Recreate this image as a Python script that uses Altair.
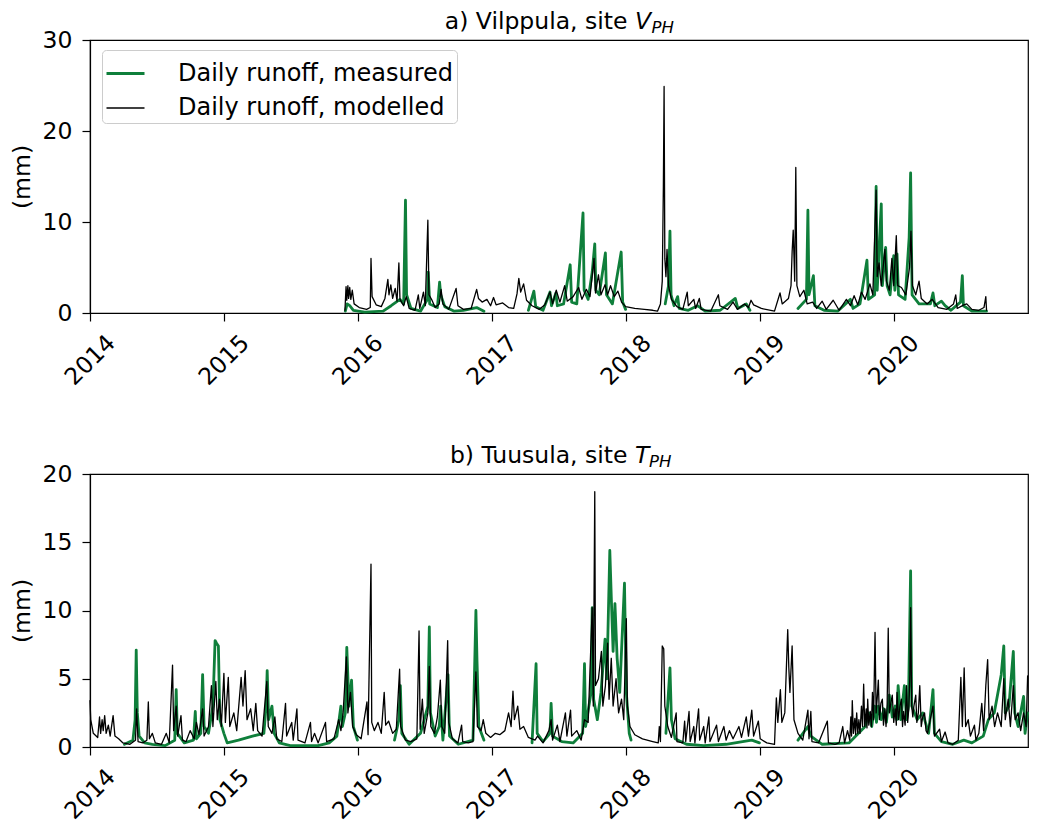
import altair as alt
import pandas as pd

MEASURED = "Daily runoff, measured"
MODELLED = "Daily runoff, modelled"
GREEN = "#0f7f3b"
FONT = "DejaVu Sans"

YEARS = [2014, 2015, 2016, 2017, 2018, 2019, 2020]
TOP_YTICKS = [0, 10, 20, 30]
BOT_YTICKS = [0, 5, 10, 15, 20]

# None marks a gap in the record
VILPPULA_MEASURED = [
    ("2015-11-28", 0.2), ("2015-12-03", 1.0), ("2015-12-10", 0.8), ("2015-12-20", 0.3),
    ("2016-01-20", 0.1), ("2016-03-10", 0.2), ("2016-04-01", 0.8), ("2016-04-25", 1.5),
    ("2016-05-05", 1.0), ("2016-05-10", 12.4), ("2016-05-13", 2.0), ("2016-05-25", 0.5),
    ("2016-06-20", 0.2), ("2016-07-09", 1.5), ("2016-07-11", 4.5), ("2016-07-15", 1.0),
    ("2016-08-05", 0.6), ("2016-08-11", 3.4), ("2016-08-14", 2.0), ("2016-08-25", 0.7),
    ("2016-09-20", 0.2), ("2016-10-15", 0.3), ("2016-11-20", 0.6), ("2016-12-10", 0.2),
    None,
    ("2017-04-10", 0.3), ("2017-04-25", 2.4), ("2017-04-30", 0.7), ("2017-05-20", 0.3),
    ("2017-06-08", 2.3), ("2017-06-12", 0.8), ("2017-06-24", 2.2), ("2017-06-28", 0.8),
    ("2017-07-15", 1.0), ("2017-08-02", 5.3), ("2017-08-06", 1.2), ("2017-08-20", 1.0),
    ("2017-09-06", 11.0), ("2017-09-09", 2.5), ("2017-09-20", 1.5), ("2017-10-01", 4.5),
    ("2017-10-08", 7.6), ("2017-10-11", 2.5), ("2017-10-20", 2.0), ("2017-11-06", 6.6),
    ("2017-11-09", 2.0), ("2017-11-25", 1.0), ("2017-12-19", 6.7), ("2017-12-23", 1.2),
    ("2017-12-31", 0.4),
    None,
    ("2018-04-18", 1.0), ("2018-04-27", 3.0), ("2018-05-01", 9.0), ("2018-05-04", 2.0),
    ("2018-05-12", 0.8), ("2018-05-22", 1.8), ("2018-05-26", 0.5), ("2018-06-20", 0.3),
    ("2018-07-15", 0.8), ("2018-08-05", 0.2), ("2018-09-15", 0.3), ("2018-10-26", 1.6),
    ("2018-11-02", 0.5), ("2018-11-25", 1.0), ("2018-12-05", 0.3),
    None,
    ("2019-04-15", 0.5), ("2019-05-08", 1.5), ("2019-05-12", 11.3), ("2019-05-15", 2.0),
    ("2019-05-27", 4.1), ("2019-05-31", 0.8), ("2019-06-25", 0.3), ("2019-08-01", 0.2),
    ("2019-09-05", 1.5), ("2019-09-12", 0.5), ("2019-10-01", 1.0), ("2019-10-20", 5.8),
    ("2019-10-24", 1.5), ("2019-11-10", 2.0), ("2019-11-14", 13.9), ("2019-11-17", 2.5),
    ("2019-11-28", 12.0), ("2019-12-01", 3.0), ("2019-12-10", 7.2), ("2019-12-14", 3.0),
    ("2019-12-22", 2.0), ("2020-01-01", 6.3), ("2020-01-04", 2.5), ("2020-01-10", 6.5),
    ("2020-01-14", 2.0), ("2020-02-01", 1.5), ("2020-02-12", 8.3), ("2020-02-16", 15.4),
    ("2020-02-20", 2.0), ("2020-03-10", 1.0), ("2020-04-10", 1.0), ("2020-04-17", 2.2),
    ("2020-04-22", 0.8), ("2020-05-10", 1.3), ("2020-05-20", 0.8), ("2020-06-05", 0.3),
    ("2020-07-01", 1.2), ("2020-07-06", 4.1), ("2020-07-09", 0.8), ("2020-08-01", 0.2),
    ("2020-09-10", 0.2),
]

VILPPULA_MODELLED = [
    ("2015-11-27", 0.3), ("2015-11-30", 2.9), ("2015-12-02", 1.4), ("2015-12-05", 3.0),
    ("2015-12-07", 1.6), ("2015-12-10", 2.8), ("2015-12-13", 1.5), ("2015-12-17", 2.5),
    ("2015-12-22", 1.0), ("2016-01-05", 0.6), ("2016-01-25", 0.4), ("2016-02-04", 0.6),
    ("2016-02-06", 6.0), ("2016-02-09", 1.8), ("2016-02-20", 0.9), ("2016-03-05", 0.7),
    ("2016-03-15", 1.6), ("2016-03-23", 3.7), ("2016-03-26", 2.0), ("2016-03-31", 3.1),
    ("2016-04-05", 1.6), ("2016-04-12", 2.7), ("2016-04-17", 1.3), ("2016-04-22", 5.5),
    ("2016-04-25", 1.5), ("2016-05-05", 0.8), ("2016-05-12", 1.8), ("2016-05-20", 0.5),
    ("2016-06-05", 0.3), ("2016-06-14", 2.0), ("2016-06-18", 0.5), ("2016-06-28", 2.3),
    ("2016-07-03", 0.8), ("2016-07-10", 10.2), ("2016-07-13", 2.0), ("2016-07-20", 1.5),
    ("2016-07-30", 0.6), ("2016-08-10", 1.0), ("2016-08-15", 2.6), ("2016-08-20", 1.0),
    ("2016-09-05", 0.4), ("2016-09-25", 2.7), ("2016-09-30", 0.8), ("2016-10-15", 0.4),
    ("2016-11-05", 0.5), ("2016-11-20", 2.6), ("2016-11-25", 1.6), ("2016-12-05", 1.2),
    ("2016-12-18", 1.5), ("2016-12-28", 0.8), ("2017-01-05", 1.7), ("2017-01-12", 0.9),
    ("2017-01-30", 1.1), ("2017-02-15", 0.6), ("2017-03-01", 0.5), ("2017-03-10", 2.1),
    ("2017-03-15", 3.8), ("2017-03-20", 2.3), ("2017-03-28", 3.2), ("2017-04-05", 1.4),
    ("2017-04-20", 0.8), ("2017-05-10", 0.4), ("2017-05-25", 0.9), ("2017-06-08", 2.3),
    ("2017-06-15", 1.0), ("2017-06-25", 2.5), ("2017-07-05", 1.2), ("2017-07-18", 3.0),
    ("2017-07-25", 1.3), ("2017-08-10", 1.8), ("2017-08-25", 2.8), ("2017-09-03", 1.5),
    ("2017-09-15", 2.6), ("2017-09-25", 1.8), ("2017-10-06", 6.0), ("2017-10-10", 2.2),
    ("2017-10-18", 4.2), ("2017-10-25", 2.0), ("2017-11-05", 3.1), ("2017-11-12", 2.0),
    ("2017-11-20", 3.0), ("2017-11-30", 1.8), ("2017-12-10", 2.4), ("2017-12-20", 1.2),
    ("2017-12-31", 0.7), ("2018-01-25", 0.5), ("2018-02-20", 0.4), ("2018-03-15", 0.3),
    ("2018-03-28", 0.2), ("2018-04-05", 1.0), ("2018-04-10", 3.5), ("2018-04-13", 13.9),
    ("2018-04-15", 24.9), ("2018-04-17", 6.0), ("2018-04-20", 4.0), ("2018-04-23", 7.0),
    ("2018-04-27", 3.0), ("2018-05-05", 1.5), ("2018-05-20", 0.7), ("2018-06-05", 0.4),
    ("2018-06-17", 2.3), ("2018-06-20", 0.8), ("2018-07-05", 1.5), ("2018-07-10", 0.5),
    ("2018-07-20", 1.6), ("2018-07-25", 0.4), ("2018-08-20", 0.2), ("2018-09-10", 2.0),
    ("2018-09-14", 0.8), ("2018-10-05", 0.4), ("2018-10-20", 1.2), ("2018-11-01", 0.4),
    ("2018-11-20", 1.0), ("2018-12-01", 0.6), ("2018-12-08", 1.4), ("2018-12-15", 0.9),
    ("2019-01-05", 0.5), ("2019-02-10", 0.2), ("2019-02-25", 2.2), ("2019-03-03", 1.0),
    ("2019-03-20", 1.6), ("2019-03-27", 3.0), ("2019-03-30", 6.7), ("2019-04-02", 9.1),
    ("2019-04-06", 3.5), ("2019-04-09", 16.0), ("2019-04-12", 3.0), ("2019-04-20", 1.8),
    ("2019-05-01", 2.5), ("2019-05-10", 1.0), ("2019-05-25", 1.2), ("2019-06-05", 0.5),
    ("2019-06-20", 1.3), ("2019-07-01", 0.4), ("2019-07-20", 1.4), ("2019-08-05", 0.3),
    ("2019-08-25", 1.5), ("2019-09-05", 0.8), ("2019-09-15", 1.9), ("2019-09-25", 0.9),
    ("2019-10-05", 2.3), ("2019-10-15", 1.5), ("2019-10-28", 3.2), ("2019-11-05", 2.0),
    ("2019-11-14", 13.5), ("2019-11-17", 4.0), ("2019-11-22", 5.5), ("2019-11-28", 3.0),
    ("2019-12-08", 7.0), ("2019-12-12", 3.5), ("2019-12-20", 2.5), ("2019-12-27", 6.0),
    ("2020-01-01", 3.0), ("2020-01-08", 8.5), ("2020-01-12", 3.0), ("2020-01-22", 2.8),
    ("2020-02-03", 2.0), ("2020-02-13", 5.0), ("2020-02-17", 9.0), ("2020-02-21", 3.0),
    ("2020-03-01", 2.0), ("2020-03-10", 3.5), ("2020-03-16", 1.6), ("2020-04-01", 1.0),
    ("2020-04-15", 1.5), ("2020-05-01", 0.6), ("2020-05-25", 0.4), ("2020-06-12", 1.0),
    ("2020-06-18", 2.0), ("2020-06-22", 0.5), ("2020-07-10", 0.9), ("2020-07-18", 1.0),
    ("2020-08-01", 0.4), ("2020-08-20", 0.3), ("2020-09-03", 0.6), ("2020-09-08", 1.8),
    ("2020-09-10", 0.3),
]

TUUSULA_MEASURED = [
    ("2014-04-05", 0.2), ("2014-04-28", 0.5), ("2014-05-04", 2.0), ("2014-05-07", 7.1),
    ("2014-05-10", 2.5), ("2014-05-15", 0.8), ("2014-05-30", 0.3), ("2014-06-20", 0.2),
    ("2014-07-25", 0.1), ("2014-08-20", 0.5), ("2014-08-24", 4.2), ("2014-08-27", 1.0),
    ("2014-09-15", 0.3), ("2014-10-10", 0.5), ("2014-10-15", 2.6), ("2014-10-18", 0.6),
    ("2014-10-30", 1.0), ("2014-11-04", 5.3), ("2014-11-08", 1.5), ("2014-11-20", 1.0),
    ("2014-12-02", 3.0), ("2014-12-08", 7.8), ("2014-12-12", 7.6), ("2014-12-17", 7.4),
    ("2014-12-21", 2.0), ("2015-01-01", 1.0), ("2015-01-10", 0.3), ("2015-02-10", 0.5),
    ("2015-03-20", 0.8), ("2015-04-20", 1.0), ("2015-04-26", 3.0), ("2015-04-29", 5.6),
    ("2015-05-03", 2.0), ("2015-05-12", 3.0), ("2015-05-18", 1.0), ("2015-06-01", 0.3),
    ("2015-07-01", 0.1), ("2015-08-15", 0.1), ("2015-09-15", 0.1), ("2015-10-15", 0.3),
    ("2015-11-05", 0.8), ("2015-11-16", 3.0), ("2015-11-20", 1.5), ("2015-11-28", 2.5),
    ("2015-12-02", 7.3), ("2015-12-08", 3.0), ("2015-12-15", 4.9), ("2015-12-20", 1.5),
    ("2015-12-31", 0.5),
    None,
    ("2016-04-10", 0.5), ("2016-04-22", 2.0), ("2016-04-26", 4.5), ("2016-04-30", 1.0),
    ("2016-05-20", 0.2), ("2016-06-20", 1.0), ("2016-07-10", 3.0), ("2016-07-14", 8.8),
    ("2016-07-17", 2.5), ("2016-07-30", 0.8), ("2016-08-10", 1.5), ("2016-08-14", 3.0),
    ("2016-08-20", 0.5), ("2016-09-03", 5.3), ("2016-09-07", 0.8), ("2016-10-01", 0.2),
    ("2016-11-10", 0.5), ("2016-11-18", 10.0), ("2016-11-21", 6.3), ("2016-11-26", 1.5),
    ("2016-12-10", 0.5),
    None,
    ("2017-04-20", 0.3), ("2017-05-01", 6.1), ("2017-05-04", 1.0), ("2017-05-20", 0.4),
    ("2017-06-08", 1.0), ("2017-06-11", 3.2), ("2017-06-15", 0.8), ("2017-07-10", 0.4),
    ("2017-08-10", 0.3), ("2017-09-05", 1.0), ("2017-09-10", 6.1), ("2017-09-13", 1.5),
    ("2017-09-28", 4.0), ("2017-10-01", 10.2), ("2017-10-05", 3.5), ("2017-10-15", 2.0),
    ("2017-10-25", 4.0), ("2017-11-05", 7.9), ("2017-11-10", 5.0), ("2017-11-18", 14.4),
    ("2017-11-22", 11.0), ("2017-11-27", 7.0), ("2017-12-02", 10.5), ("2017-12-08", 6.5),
    ("2017-12-15", 4.0), ("2017-12-28", 12.0), ("2018-01-02", 4.0), ("2018-01-10", 1.0),
    ("2018-01-15", 0.5),
    None,
    ("2018-04-20", 1.0), ("2018-05-01", 5.8), ("2018-05-05", 2.0), ("2018-05-15", 0.6),
    ("2018-06-15", 0.2), ("2018-08-01", 0.1), ("2018-10-01", 0.2), ("2018-11-15", 0.4),
    ("2018-12-10", 0.5), ("2018-12-31", 0.3),
    None,
    ("2019-04-15", 0.5), ("2019-05-12", 1.5), ("2019-05-20", 0.8), ("2019-06-20", 0.2),
    ("2019-09-01", 0.3), ("2019-10-15", 1.5), ("2019-10-25", 2.5), ("2019-11-02", 1.5),
    ("2019-11-10", 3.0), ("2019-11-15", 1.8), ("2019-11-20", 3.0), ("2019-11-28", 2.0),
    ("2019-12-05", 2.8), ("2019-12-12", 1.8), ("2019-12-20", 3.8), ("2019-12-28", 2.2),
    ("2020-01-05", 3.0), ("2020-01-09", 2.0), ("2020-01-13", 4.5), ("2020-01-20", 2.0),
    ("2020-01-26", 3.5), ("2020-01-30", 4.5), ("2020-02-05", 2.0), ("2020-02-10", 3.0),
    ("2020-02-16", 12.9), ("2020-02-19", 3.0), ("2020-03-05", 2.0), ("2020-03-20", 2.5),
    ("2020-04-05", 1.0), ("2020-04-17", 4.2), ("2020-04-21", 1.0), ("2020-05-10", 0.4),
    ("2020-06-10", 0.2), ("2020-07-10", 0.5), ("2020-08-01", 0.3), ("2020-09-01", 0.8),
    ("2020-09-15", 2.0), ("2020-10-01", 2.5), ("2020-10-20", 5.3), ("2020-10-27", 7.4),
    ("2020-10-31", 2.5), ("2020-11-10", 3.0), ("2020-11-22", 7.0), ("2020-11-26", 2.5),
    ("2020-12-05", 1.5), ("2020-12-20", 3.7), ("2020-12-24", 1.0), ("2020-12-31", 2.5),
]

TUUSULA_MODELLED = [
    ("2014-01-01", 3.4), ("2014-01-03", 2.0), ("2014-01-10", 1.0), ("2014-01-22", 0.7),
    ("2014-01-27", 2.2), ("2014-01-30", 1.0), ("2014-02-03", 2.0), ("2014-02-06", 1.2),
    ("2014-02-10", 2.3), ("2014-02-14", 1.0), ("2014-02-20", 1.6), ("2014-02-25", 0.8),
    ("2014-03-05", 2.3), ("2014-03-10", 0.8), ("2014-03-20", 0.6), ("2014-04-01", 0.3),
    ("2014-04-20", 0.2), ("2014-05-05", 0.5), ("2014-05-08", 2.8), ("2014-05-12", 0.4),
    ("2014-05-25", 0.3), ("2014-06-05", 0.5), ("2014-06-09", 3.3), ("2014-06-12", 0.6),
    ("2014-06-20", 1.0), ("2014-06-28", 0.3), ("2014-07-15", 0.2), ("2014-07-28", 1.0),
    ("2014-08-05", 0.3), ("2014-08-14", 6.0), ("2014-08-17", 1.2), ("2014-08-24", 3.0),
    ("2014-08-28", 0.8), ("2014-09-06", 2.3), ("2014-09-10", 0.5), ("2014-09-20", 0.4),
    ("2014-10-01", 1.2), ("2014-10-12", 0.6), ("2014-10-18", 1.8), ("2014-10-25", 0.9),
    ("2014-11-04", 2.8), ("2014-11-08", 0.8), ("2014-11-20", 1.5), ("2014-11-28", 4.5),
    ("2014-12-02", 1.5), ("2014-12-10", 4.8), ("2014-12-14", 2.0), ("2014-12-20", 3.5),
    ("2014-12-25", 1.5), ("2015-01-01", 5.4), ("2015-01-05", 1.8), ("2015-01-13", 5.1),
    ("2015-01-17", 1.5), ("2015-01-28", 2.5), ("2015-02-05", 1.2), ("2015-02-17", 5.1),
    ("2015-02-22", 3.0), ("2015-02-28", 5.6), ("2015-03-05", 2.0), ("2015-03-15", 2.8),
    ("2015-03-22", 1.2), ("2015-03-29", 3.2), ("2015-04-03", 1.2), ("2015-04-15", 0.8),
    ("2015-04-28", 4.8), ("2015-05-02", 1.5), ("2015-05-12", 1.0), ("2015-05-20", 2.2),
    ("2015-05-25", 0.6), ("2015-06-08", 0.4), ("2015-06-18", 3.2), ("2015-06-21", 0.8),
    ("2015-07-05", 1.8), ("2015-07-09", 0.5), ("2015-07-19", 2.8), ("2015-07-22", 0.5),
    ("2015-08-10", 0.3), ("2015-08-25", 1.8), ("2015-08-28", 0.4), ("2015-09-05", 1.0),
    ("2015-09-15", 0.3), ("2015-10-05", 1.8), ("2015-10-08", 0.4), ("2015-10-28", 0.6),
    ("2015-11-10", 2.0), ("2015-11-16", 1.2), ("2015-11-22", 2.5), ("2015-12-01", 6.6),
    ("2015-12-05", 2.5), ("2015-12-12", 4.0), ("2015-12-18", 1.5), ("2015-12-28", 0.9),
    ("2016-01-10", 0.6), ("2016-01-26", 3.3), ("2016-01-29", 0.9), ("2016-02-06", 13.4),
    ("2016-02-08", 1.8), ("2016-02-15", 1.2), ("2016-02-25", 1.8), ("2016-03-05", 1.0),
    ("2016-03-13", 4.0), ("2016-03-17", 1.6), ("2016-03-25", 1.9), ("2016-04-05", 1.0),
    ("2016-04-15", 1.3), ("2016-04-24", 5.7), ("2016-04-27", 1.5), ("2016-05-10", 0.5),
    ("2016-05-25", 0.4), ("2016-06-10", 0.6), ("2016-06-16", 8.5), ("2016-06-19", 1.3),
    ("2016-06-25", 3.5), ("2016-06-30", 1.0), ("2016-07-10", 2.5), ("2016-07-14", 5.9),
    ("2016-07-18", 1.5), ("2016-07-28", 1.0), ("2016-08-05", 2.2), ("2016-08-13", 4.9),
    ("2016-08-17", 1.5), ("2016-08-25", 1.0), ("2016-09-02", 7.8), ("2016-09-05", 1.8),
    ("2016-09-15", 0.6), ("2016-09-30", 0.3), ("2016-10-10", 1.6), ("2016-10-13", 0.4),
    ("2016-10-28", 0.3), ("2016-11-10", 0.4), ("2016-11-18", 5.5), ("2016-11-22", 1.5),
    ("2016-12-02", 1.2), ("2016-12-08", 2.0), ("2016-12-15", 1.0), ("2016-12-28", 0.7),
    ("2017-01-10", 1.0), ("2017-01-22", 0.9), ("2017-02-05", 1.2), ("2017-02-15", 2.5),
    ("2017-02-22", 1.5), ("2017-02-27", 4.1), ("2017-03-03", 2.0), ("2017-03-12", 3.0),
    ("2017-03-18", 1.3), ("2017-03-28", 1.5), ("2017-04-10", 0.7), ("2017-04-28", 0.5),
    ("2017-05-05", 0.8), ("2017-05-20", 0.3), ("2017-06-05", 1.2), ("2017-06-11", 2.0),
    ("2017-06-15", 0.5), ("2017-06-28", 1.6), ("2017-07-05", 0.4), ("2017-07-20", 2.5),
    ("2017-07-24", 0.8), ("2017-08-03", 2.7), ("2017-08-06", 0.8), ("2017-08-20", 1.2),
    ("2017-09-01", 0.5), ("2017-09-10", 2.0), ("2017-09-20", 1.8), ("2017-10-01", 10.2),
    ("2017-10-04", 3.0), ("2017-10-08", 18.7), ("2017-10-10", 4.5), ("2017-10-18", 5.0),
    ("2017-10-26", 7.0), ("2017-10-30", 3.0), ("2017-11-06", 4.5), ("2017-11-12", 7.6),
    ("2017-11-16", 3.5), ("2017-11-22", 6.5), ("2017-11-27", 3.0), ("2017-12-05", 5.0),
    ("2017-12-12", 2.5), ("2017-12-20", 3.5), ("2017-12-26", 2.0), ("2018-01-02", 9.4),
    ("2018-01-05", 3.0), ("2018-01-12", 1.5), ("2018-01-25", 0.9), ("2018-02-15", 0.6),
    ("2018-03-15", 0.4), ("2018-03-30", 0.3), ("2018-04-02", 1.5), ("2018-04-05", 0.4),
    ("2018-04-10", 7.4), ("2018-04-14", 7.2), ("2018-04-17", 3.0), ("2018-04-25", 1.5),
    ("2018-05-05", 0.7), ("2018-05-18", 2.5), ("2018-05-20", 0.4), ("2018-06-05", 0.3),
    ("2018-06-10", 1.9), ("2018-06-13", 0.4), ("2018-06-22", 2.6), ("2018-06-25", 0.4),
    ("2018-07-05", 1.5), ("2018-07-08", 0.3), ("2018-07-18", 2.8), ("2018-07-21", 0.5),
    ("2018-08-01", 1.5), ("2018-08-05", 0.3), ("2018-08-15", 2.2), ("2018-08-18", 0.4),
    ("2018-09-05", 1.6), ("2018-09-10", 0.4), ("2018-09-25", 1.5), ("2018-10-01", 0.5),
    ("2018-10-10", 1.2), ("2018-10-20", 0.6), ("2018-11-05", 1.5), ("2018-11-12", 0.7),
    ("2018-11-25", 2.2), ("2018-12-01", 0.8), ("2018-12-10", 2.7), ("2018-12-15", 0.8),
    ("2018-12-28", 1.9), ("2019-01-02", 0.6), ("2019-01-20", 0.3), ("2019-02-10", 0.2),
    ("2019-02-15", 3.6), ("2019-02-19", 1.8), ("2019-02-26", 4.2), ("2019-03-02", 1.8),
    ("2019-03-10", 2.5), ("2019-03-18", 8.6), ("2019-03-21", 5.8), ("2019-03-24", 4.0),
    ("2019-03-30", 7.4), ("2019-04-04", 2.0), ("2019-04-15", 1.0), ("2019-04-28", 0.5),
    ("2019-05-12", 2.7), ("2019-05-15", 0.6), ("2019-05-20", 2.6), ("2019-05-23", 0.4),
    ("2019-06-10", 0.3), ("2019-07-04", 1.9), ("2019-07-07", 0.3), ("2019-07-25", 0.2),
    ("2019-08-05", 0.3), ("2019-08-15", 1.5), ("2019-08-20", 0.3), ("2019-08-28", 1.2),
    ("2019-09-03", 0.5), ("2019-09-06", 2.2), ("2019-09-08", 0.8), ("2019-09-10", 3.4),
    ("2019-09-13", 1.0), ("2019-09-17", 2.1), ("2019-09-19", 0.9), ("2019-09-22", 2.5),
    ("2019-09-25", 1.0), ("2019-09-28", 2.0), ("2019-10-01", 1.0), ("2019-10-05", 3.0),
    ("2019-10-08", 1.5), ("2019-10-11", 4.6), ("2019-10-14", 1.5), ("2019-10-18", 2.8),
    ("2019-10-20", 1.4), ("2019-10-22", 3.5), ("2019-10-25", 1.6), ("2019-10-29", 2.6),
    ("2019-11-01", 1.5), ("2019-11-04", 4.0), ("2019-11-07", 2.0), ("2019-11-11", 8.4),
    ("2019-11-14", 2.5), ("2019-11-17", 3.6), ("2019-11-20", 4.9), ("2019-11-23", 2.0),
    ("2019-11-27", 3.2), ("2019-12-01", 3.5), ("2019-12-04", 1.6), ("2019-12-08", 2.8),
    ("2019-12-11", 1.5), ("2019-12-14", 3.0), ("2019-12-17", 8.7), ("2019-12-20", 2.5),
    ("2019-12-24", 3.2), ("2019-12-28", 3.8), ("2020-01-01", 1.8), ("2020-01-05", 2.8),
    ("2020-01-08", 1.6), ("2020-01-10", 4.0), ("2020-01-14", 2.0), ("2020-01-18", 3.0),
    ("2020-01-22", 3.5), ("2020-01-25", 1.5), ("2020-01-28", 2.6), ("2020-02-01", 1.6),
    ("2020-02-05", 4.5), ("2020-02-08", 1.8), ("2020-02-11", 2.8), ("2020-02-14", 5.3),
    ("2020-02-16", 10.2), ("2020-02-19", 3.0), ("2020-02-22", 2.2), ("2020-02-25", 3.0),
    ("2020-03-01", 3.8), ("2020-03-04", 1.8), ("2020-03-08", 2.5), ("2020-03-12", 4.5),
    ("2020-03-16", 1.5), ("2020-03-20", 2.2), ("2020-03-25", 2.5), ("2020-03-29", 1.2),
    ("2020-04-02", 1.0), ("2020-04-17", 3.0),
    ("2020-04-21", 0.8), ("2020-05-05", 1.3), ("2020-05-10", 0.4), ("2020-05-20", 1.1),
    ("2020-05-28", 0.3), ("2020-06-10", 0.2), ("2020-06-25", 0.5), ("2020-07-02", 5.1),
    ("2020-07-06", 1.5), ("2020-07-11", 5.8), ("2020-07-15", 1.5), ("2020-07-22", 2.0),
    ("2020-07-28", 0.8), ("2020-08-08", 1.6), ("2020-08-12", 0.5), ("2020-08-20", 1.0),
    ("2020-08-28", 3.2), ("2020-09-02", 1.2), ("2020-09-08", 4.5), ("2020-09-13", 6.4),
    ("2020-09-17", 2.0), ("2020-09-25", 3.0), ("2020-10-02", 1.5), ("2020-10-10", 2.5),
    ("2020-10-20", 1.5), ("2020-10-27", 5.0), ("2020-10-31", 2.0), ("2020-11-08", 3.5),
    ("2020-11-14", 1.5), ("2020-11-22", 4.5), ("2020-11-27", 2.0), ("2020-12-05", 2.5),
    ("2020-12-12", 1.2), ("2020-12-20", 2.5), ("2020-12-27", 1.5), ("2020-12-31", 5.2),
]

W, H = 938, 273
FS = 23.5


def to_frame(points, name):
    rows, seg = [], 0
    for p in points:
        if p is None:
            seg += 1
            continue
        rows.append({"date": p[0], "runoff": p[1], "series": name, "seg": seg})
    return pd.DataFrame(rows)


def dt(y):
    return alt.DateTime(year=y, month=1, date=1, utc=True)


def panel(measured, modelled, ymax, yticks, main, sym, sub_dx, show_legend):
    x = alt.X(
        "date:T",
        scale=alt.Scale(type="utc", domain=[dt(2014), dt(2021)]),
        axis=alt.Axis(
            title=None, values=[dt(y) for y in YEARS], format="%Y",
            labelAngle=315, labelAlign="center", labelBaseline="middle",
            labelPadding=39, tickSize=8, labelFlush=False, labelOverlap=False,
        ),
    )
    y = alt.Y(
        "runoff:Q",
        scale=alt.Scale(domain=[0, ymax], nice=False),
        axis=alt.Axis(
            title="(mm)", values=yticks, format="d", tickSize=8,
            labelPadding=10, titlePadding=8,
        ),
    )
    cscale = alt.Scale(domain=[MEASURED, MODELLED], range=[GREEN, "#000000"])
    wscale = alt.Scale(domain=[MEASURED, MODELLED], range=[2.8, 1.3])
    if show_legend:
        leg = alt.Legend(
            title=None, orient="none", legendX=12, legendY=10,
            symbolType="stroke", symbolSize=1444, labelFontSize=24,
            labelFont=FONT, labelColor="black", labelOffset=32, labelLimit=500,
            padding=3, rowPadding=2, strokeColor="#cccccc", fillColor="white",
            cornerRadius=4,
        )
        color = alt.Color("series:N", scale=cscale, legend=leg)
        sw = alt.StrokeWidth("series:N", scale=wscale, legend=leg)
    else:
        color = alt.Color("series:N", scale=cscale, legend=None)
        sw = alt.StrokeWidth("series:N", scale=wscale, legend=None)

    meas = alt.Chart(to_frame(measured, MEASURED)).mark_line(strokeJoin="round", strokeCap="round").encode(
        x=x, y=y, color=color, strokeWidth=sw, detail="seg:N")
    mod = alt.Chart(to_frame(modelled, MODELLED)).mark_line(strokeJoin="round", strokeCap="round").encode(
        x=x, y=y, color=color, strokeWidth=sw, detail="seg:N")

    one = pd.DataFrame({"k": [0]})
    t_main = alt.Chart(one).mark_text(
        text=main, align="right", baseline="alphabetic", fontSize=FS, font=FONT, color="black"
    ).encode(x=alt.value(W / 2 + 68.5), y=alt.value(-11.5))
    t_sym = alt.Chart(one).mark_text(
        text=sym, align="left", baseline="alphabetic", fontSize=FS, font=FONT,
        fontStyle="italic", color="black"
    ).encode(x=alt.value(W / 2 + 76), y=alt.value(-11.5))
    t_sub = alt.Chart(one).mark_text(
        text="PH", align="left", baseline="alphabetic", fontSize=16.5, font=FONT,
        fontStyle="italic", color="black"
    ).encode(x=alt.value(W / 2 + sub_dx), y=alt.value(-7))

    return alt.layer(meas, mod, t_main, t_sym, t_sub).properties(width=W, height=H)


top = panel(VILPPULA_MEASURED, VILPPULA_MODELLED, 30, TOP_YTICKS,
            "a) Vilppula, site", "V", 92.5, True)
bottom = panel(TUUSULA_MEASURED, TUUSULA_MODELLED, 20, BOT_YTICKS,
               "b) Tuusula, site", "T", 90, False)

chart = (
    alt.vconcat(top, bottom, spacing=161, bounds="flush",
                padding={"left": 1, "top": 0, "right": 0, "bottom": 0})
    .resolve_scale(color="independent", strokeWidth="independent", x="independent", y="independent")
    .resolve_legend(color="independent", strokeWidth="independent")
    .configure(font=FONT)
    .configure_view(stroke="black", strokeWidth=1.2)
    .configure_axis(
        domainColor="black", domainWidth=1.2, tickColor="black", tickWidth=1.2,
        labelFontSize=FS, labelColor="black", labelFont=FONT,
        titleFontSize=FS, titleColor="black", titleFont=FONT, titleFontWeight="normal",
        grid=False,
    )
)

chart.save("out.html", embed_options={"renderer": "svg", "actions": False})
